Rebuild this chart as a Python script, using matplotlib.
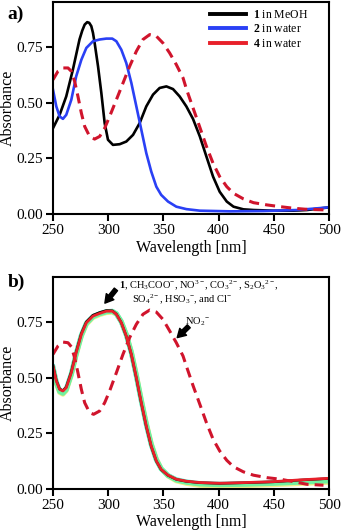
import matplotlib
matplotlib.use("Agg")
import matplotlib.pyplot as plt
from matplotlib.lines import Line2D

plt.rcParams['font.family'] = ['Liberation Serif', 'DejaVu Serif']
plt.rcParams['mathtext.fontset'] = 'custom'
plt.rcParams['mathtext.rm'] = 'Liberation Serif'
plt.rcParams['mathtext.bf'] = 'Liberation Serif:bold'
plt.rcParams['mathtext.it'] = 'Liberation Serif:italic'

# ---- panel a data ----
a1_wl = [250, 256, 262, 268, 274, 276.5, 278.7, 281, 282.8, 284.7, 286.2, 287.7, 290.8, 293.8,
         296.8, 299.8, 304.3, 310.4, 316.4, 322.5, 328.5, 334.5, 340.6, 346.6, 352.7, 358.7,
         364.7, 370.8, 376.8, 383, 389, 395, 401, 407.4, 413.5, 422.5, 431.6, 449.7, 467.8,
         480, 500]
a1_abs = [0.386, 0.446, 0.529, 0.649, 0.785, 0.825, 0.852, 0.863, 0.860, 0.845, 0.815, 0.770,
          0.664, 0.544, 0.409, 0.334, 0.311, 0.314, 0.326, 0.356, 0.409, 0.484, 0.537, 0.567,
          0.574, 0.562, 0.529, 0.484, 0.428, 0.349, 0.258, 0.168, 0.100, 0.056, 0.033, 0.021,
          0.018, 0.015, 0.015, 0.018, 0.030]

a2_wl = [250, 253, 256, 259, 262, 266.6, 271, 275.7, 280.2, 286.2, 292.3, 298.3, 303.7, 307.4,
         311.9, 316.4, 321, 325.5, 330, 334.5, 339, 343.6, 348, 354.2, 361.7, 370.8, 383,
         410.5, 440.7, 470.9, 500]
a2_abs = [0.559, 0.484, 0.439, 0.428, 0.446, 0.514, 0.619, 0.694, 0.747, 0.777, 0.785, 0.789,
          0.789, 0.777, 0.739, 0.679, 0.589, 0.484, 0.379, 0.274, 0.191, 0.123, 0.086, 0.056,
          0.033, 0.022, 0.015, 0.012, 0.0135, 0.018, 0.030]

a4_wl = [250, 254.5, 259, 263.6, 266.6, 269.6, 272.6, 275.7, 278.7, 283.2, 287.7, 292.3, 296.8,
         301.3, 307.4, 313.4, 319.4, 325.5, 331.5, 337.6, 343.6, 349.6, 355.7, 361.7, 367.8,
         371, 377, 383, 389, 395, 401, 407.4, 413.5, 422.5, 431.6, 443.7, 455.8, 467.8, 480, 500]
a4_abs = [0.604, 0.642, 0.657, 0.657, 0.642, 0.597, 0.529, 0.454, 0.394, 0.349, 0.337, 0.349,
          0.386, 0.439, 0.514, 0.589, 0.664, 0.732, 0.785, 0.807, 0.800, 0.769, 0.724, 0.672,
          0.612, 0.560, 0.475, 0.390, 0.304, 0.228, 0.168, 0.123, 0.093, 0.068, 0.051, 0.041,
          0.033, 0.026, 0.021, 0.018]

# ---- panel b data ----
b_wl = [250, 253, 256, 259, 262, 266.6, 271, 275.7, 280.2, 286.2, 292.3, 298.3, 303.7, 307.4,
        311.9, 316.4, 321, 325.5, 330, 334.5, 339, 343.6, 348, 354.2, 361.7, 370.8, 383, 401,
        425, 449.7, 473.9, 500]
b_red = [0.553, 0.486, 0.448, 0.441, 0.456, 0.523, 0.613, 0.696, 0.748, 0.778, 0.790, 0.800,
         0.800, 0.786, 0.748, 0.688, 0.606, 0.501, 0.388, 0.283, 0.193, 0.126, 0.088, 0.062,
         0.044, 0.035, 0.029, 0.026, 0.029, 0.033, 0.041, 0.048]
b_green = [0.545, 0.478, 0.438, 0.430, 0.446, 0.515, 0.606, 0.690, 0.744, 0.775, 0.788, 0.797,
           0.799, 0.789, 0.754, 0.696, 0.616, 0.512, 0.400, 0.294, 0.202, 0.133, 0.091, 0.060,
           0.040, 0.030, 0.022, 0.019, 0.021, 0.025, 0.030, 0.036]
b_cyan = [0.550, 0.482, 0.443, 0.435, 0.451, 0.519, 0.610, 0.693, 0.746, 0.776, 0.789, 0.798,
          0.800, 0.788, 0.751, 0.692, 0.611, 0.506, 0.394, 0.289, 0.198, 0.130, 0.090, 0.061,
          0.042, 0.032, 0.025, 0.022, 0.024, 0.028, 0.034, 0.040]
b_yellow = [0.540, 0.474, 0.434, 0.426, 0.442, 0.511, 0.602, 0.686, 0.740, 0.771, 0.784, 0.793,
            0.795, 0.786, 0.752, 0.696, 0.618, 0.515, 0.404, 0.298, 0.206, 0.136, 0.092, 0.058,
            0.036, 0.025, 0.016, 0.013, 0.015, 0.019, 0.024, 0.030]
b_black = [0.556, 0.489, 0.450, 0.443, 0.459, 0.527, 0.617, 0.700, 0.752, 0.782, 0.794, 0.803,
           0.802, 0.787, 0.748, 0.687, 0.604, 0.499, 0.386, 0.281, 0.191, 0.125, 0.087, 0.061,
           0.043, 0.034, 0.028, 0.025, 0.028, 0.032, 0.040, 0.047]

b_no2_wl = [250, 254.5, 259, 263.6, 266.6, 269.6, 272.6, 275.7, 278.7, 283.2, 286.8, 292.3,
            296.8, 301.3, 307.4, 313.4, 319.4, 325.5, 331.5, 337.6, 343.6, 349.6, 355.7, 361.7,
            367.8, 371, 377, 383, 389, 395, 401, 407.4, 413.5, 422.5, 431.6, 443.7, 455.8,
            467.8, 480, 495]
b_no2_abs = [0.606, 0.643, 0.661, 0.658, 0.640, 0.591, 0.523, 0.448, 0.388, 0.343, 0.336, 0.351,
             0.388, 0.441, 0.523, 0.606, 0.681, 0.741, 0.786, 0.805, 0.796, 0.763, 0.711, 0.658,
             0.598, 0.550, 0.463, 0.381, 0.298, 0.224, 0.171, 0.129, 0.100, 0.077, 0.062, 0.051,
             0.044, 0.033, 0.021, 0.017]

x_ticks = [250, 300, 350, 400, 450, 500]
y_ticks = [0.00, 0.25, 0.50, 0.75]
y_tick_labels = ['0.00', '0.25', '0.50', '0.75']

BLACK = 'black'
BLUE = '#2a40f5'
RED = '#e8202a'
DRED = '#d0142c'
dash = (0, (3.3, 2.0))


def style_axes(ax):
    ax.set_xlim(250, 500)
    ax.set_ylim(0, 0.955)
    ax.set_xticks(x_ticks)
    ax.set_yticks(y_ticks)
    ax.set_yticklabels(y_tick_labels)
    ax.tick_params(direction='out', length=5, width=1.5, labelsize=11, pad=2)
    for s in ax.spines.values():
        s.set_linewidth(1.5)
    ax.set_xlabel('Wavelength [nm]', fontsize=11.5, labelpad=2)
    ax.set_ylabel('Absorbance', fontsize=11.5)
    ax.yaxis.set_label_coords(-0.135, 0.5)


fig = plt.figure(figsize=(3.43, 5.30), dpi=100)

# panel a
ax1 = fig.add_axes([0.1545, 0.5962, 0.8047, 0.4006])
ax1.plot(a1_wl, a1_abs, color=BLACK, lw=1.9)
ax1.plot(a2_wl, a2_abs, color=BLUE, lw=1.9)
ax1.plot(a4_wl, a4_abs, color=DRED, lw=2.2, linestyle=dash)
style_axes(ax1)
handles = [Line2D([], [], color=BLACK, lw=2.8),
           Line2D([], [], color=BLUE, lw=2.8),
           Line2D([], [], color=RED, lw=2.8)]
labels = [r'$\mathbf{1}$ in MeOH', r'$\mathbf{2}$ in water', r'$\mathbf{4}$ in water']
ax1.legend(handles, labels, loc='upper left', bbox_to_anchor=(0.535, 1.01), frameon=False,
           fontsize=8.5, handlelength=3.0, handletextpad=0.6, labelspacing=0.2, borderpad=0.3)
fig.text(0.022, 0.972, 'a)', fontsize=14, fontweight='bold', va='center')

# panel b
ax2 = fig.add_axes([0.1545, 0.0774, 0.8047, 0.4005])
ax2.plot(b_wl, b_yellow, color='#f2f08a', lw=3.5)
ax2.plot(b_wl, b_cyan, color='#60e8d8', lw=3.5)
ax2.plot(b_wl, b_green, color='#70f0a0', lw=3.5)
ax2.plot(b_wl, b_black, color=BLACK, lw=1.8)
ax2.plot(b_no2_wl, b_no2_abs, color=DRED, lw=2.2, linestyle=dash)
ax2.plot(b_wl, b_red, color=RED, lw=2.0)
style_axes(ax2)
fig.text(0.022, 0.468, 'b)', fontsize=14, fontweight='bold', va='center')

ax2.text(309.5, 0.918,
         r'$\mathbf{1}$, CH$_3$COO$^{-}$, NO$^{3-}$, CO$_3$$^{2-}$, S$_2$O$_3$$^{2-}$,',
         fontsize=7.5, va='center', ha='left')
ax2.text(322, 0.855, r'SO$_4$$^{2-}$, HSO$_3$$^{-}$, and Cl$^{-}$',
         fontsize=7.5, va='center', ha='left')
ax2.text(370, 0.753, r'NO$_2$$^{-}$', fontsize=7.5, va='center', ha='left')

arrow_kw = dict(arrowstyle='simple,head_length=0.6,head_width=0.7,tail_width=0.3',
                color='black', mutation_scale=10, shrinkA=0, shrinkB=0)
ax2.annotate('', xy=(297, 0.836), xytext=(307, 0.898), arrowprops=arrow_kw)
ax2.annotate('', xy=(362.5, 0.681), xytext=(373, 0.732), arrowprops=arrow_kw)

fig.savefig('out.png', dpi=100)
